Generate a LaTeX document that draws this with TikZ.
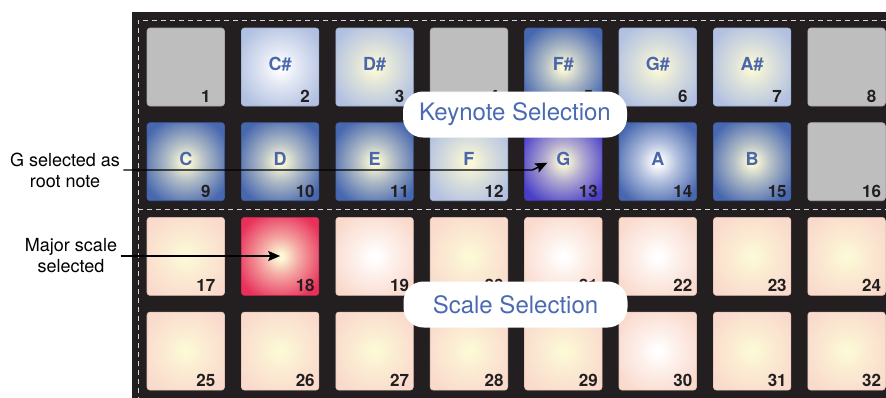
\documentclass[tikz,border=0pt]{standalone}
\usepackage{fontspec}
\setmainfont{TeX Gyre Heros}
\usetikzlibrary{arrows.meta,positioning}
\definecolor{boardbg}{HTML}{231F20}
\definecolor{dashgray}{HTML}{D4D4D4}
\definecolor{greyfill}{HTML}{BEBEBE}
\definecolor{greyedge}{HTML}{A8A8A8}
\definecolor{litefill}{HTML}{B2C1E1}
\definecolor{liteedge}{HTML}{9EAFD2}
\definecolor{darkfill}{HTML}{4767AF}
\definecolor{darkedge}{HTML}{3E5B9D}
\definecolor{gfill}{HTML}{4A3EC8}
\definecolor{gedge}{HTML}{3F35AE}
\definecolor{pinkfill}{HTML}{FADACD}
\definecolor{pinkedge}{HTML}{E2C2B2}
\definecolor{redfill}{HTML}{E8305A}
\definecolor{rededge}{HTML}{C92A4E}
\definecolor{glowyel}{HTML}{FCF9D6}
\definecolor{notetext}{HTML}{4A67AE}
\definecolor{calltext}{HTML}{4A6AB3}
\definecolor{numtext}{HTML}{231F20}
\colorlet{glowin}{white}
\colorlet{glowout}{greyfill}
\pgfdeclareradialshading[glowin,glowout]{padglow}{\pgfpointorigin}{color(0bp)=(glowin); color(2bp)=(glowin); color(12bp)=(glowin!60!glowout); color(30bp)=(glowout); color(50bp)=(glowout)}
\tikzset{
  pad/.style={draw, line width=0.6pt, rounded corners=3pt, minimum width=77.5pt, minimum height=78pt, inner sep=0pt, shade, shading=padglow},
  padgrey/.style={draw=greyedge, /utils/exec={\colorlet{glowin}{greyfill}\colorlet{glowout}{greyfill}}},
  padlitew/.style={draw=liteedge, /utils/exec={\colorlet{glowin}{white}\colorlet{glowout}{litefill}}},
  padlitey/.style={draw=liteedge, /utils/exec={\colorlet{glowin}{glowyel}\colorlet{glowout}{litefill}}},
  paddarkw/.style={draw=darkedge, /utils/exec={\colorlet{glowin}{white}\colorlet{glowout}{darkfill}}},
  paddarky/.style={draw=darkedge, /utils/exec={\colorlet{glowin}{glowyel}\colorlet{glowout}{darkfill}}},
  padg/.style={draw=gedge, /utils/exec={\colorlet{glowin}{glowyel}\colorlet{glowout}{gfill}}},
  padpinkw/.style={draw=pinkedge, /utils/exec={\colorlet{glowin}{white}\colorlet{glowout}{pinkfill}}},
  padpinky/.style={draw=pinkedge, /utils/exec={\colorlet{glowin}{glowyel}\colorlet{glowout}{pinkfill}}},
  padred/.style={draw=rededge, /utils/exec={\colorlet{glowin}{glowyel}\colorlet{glowout}{redfill}}},
  padnum/.style={font=\fontsize{17pt}{17pt}\selectfont\bfseries, text=numtext, anchor=base, inner sep=0pt},
  notename/.style={font=\fontsize{18pt}{18pt}\selectfont\bfseries, text=notetext, inner sep=0pt},
  callout/.style={fill=white, rounded corners=20pt, minimum width=224pt, minimum height=46pt, text=calltext, font=\fontsize{24pt}{24pt}\selectfont},
  sidenote/.style={align=center, font=\fontsize{18pt}{21pt}\selectfont, text=black},
  pointer/.style={draw=black, line width=1.4pt, -{Stealth[length=12pt,width=10pt,inset=2pt]}},
  divider/.style={draw=dashgray, line width=1pt, dash pattern=on 5pt off 4pt}
}
\begin{document}
\begin{tikzpicture}[x=1pt,y=-1pt]
\useasboundingbox (0,0) rectangle (886,397);
\clip (0,0) rectangle (886,397);
\fill[boardbg] (132,12) rectangle (892,402);
\draw[divider] (138,402) -- (138,20) -- (892,20);
\draw[divider] (138,209) -- (892,209);
\foreach \n/\kind in {1/padgrey,2/padlitew,3/padlitey,4/padgrey,5/paddarky,6/padlitey,7/padlitey,8/padgrey,
  9/paddarky,10/paddarky,11/paddarky,12/padlitey,13/padg,14/paddarkw,15/paddarky,16/padgrey,
  17/padpinky,18/padred,19/padpinkw,20/padpinky,21/padpinkw,22/padpinkw,23/padpinky,24/padpinky,
  25/padpinky,26/padpinky,27/padpinky,28/padpinky,29/padpinky,30/padpinkw,31/padpinky,32/padpinky}{
  \pgfmathtruncatemacro{\c}{mod(\n-1,8)}
  \pgfmathtruncatemacro{\r}{(\n-1)/8}
  \pgfmathsetmacro{\nx}{\c==0 ? -19 : -14}
  \node[pad, \kind] (p\n) at (185.75+94.4*\c, 67+94.7*\r) {};
  \node[padnum] (n\n) at ([xshift=\nx pt,yshift=4pt]p\n.south east) {\n};
}
\foreach \n/\lab in {2/C\#,3/D\#,5/F\#,6/G\#,7/A\#,9/C,10/D,11/E,12/F,13/G,14/A,15/B}
  \node[notename] (k\n) at ([yshift=3pt]p\n.center) {\lab};
\node[callout] (keysel) at (515,114.5) {Keynote Selection};
\node[callout] (scalesel) at (515.5,304.5) {Scale Selection};
\node[sidenote] (gsel) at (65,170) {G selected as\\root note};
\node[sidenote] (msel) at (71,256) {Major scale\\selected};
\coordinate (gtip) at ([xshift=-16pt,yshift=-1pt]p13.center);
\draw[pointer] (gsel.east) -- ++(409,0) -- (gtip);
\draw[pointer] (msel.east) -- (msel.east -| p18.center);
\end{tikzpicture}
\end{document}
